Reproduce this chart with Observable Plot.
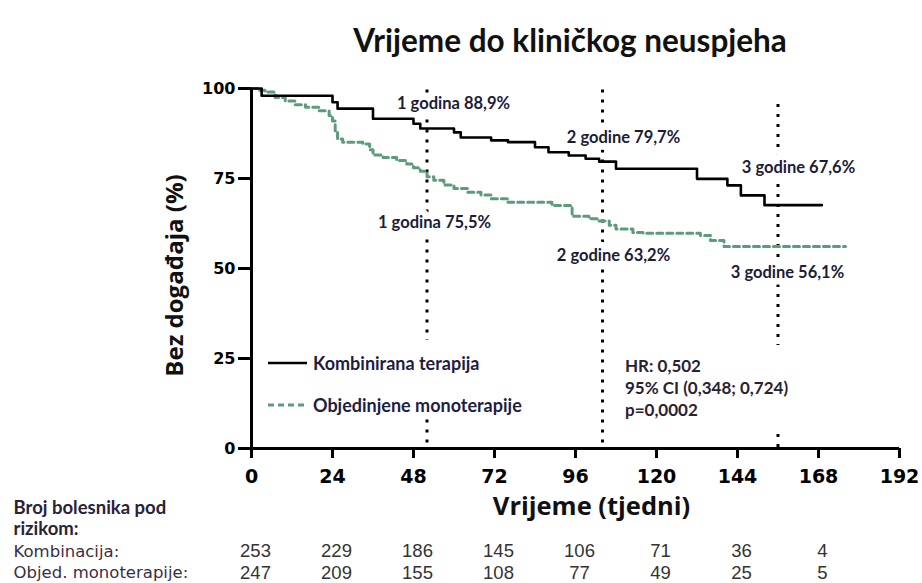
<!DOCTYPE html>
<html>
<head>
<meta charset="utf-8">
<script src="https://cdn.jsdelivr.net/npm/d3@7"></script>
<script src="https://cdn.jsdelivr.net/npm/@observablehq/plot@0.6"></script>
<style>
  body { margin: 0; background: #fff; }
  #wrap { position: relative; width: 922px; height: 583px; overflow: hidden; background: #fff; }
  #title { position: absolute; left: 0; top: 20px; width: 922px; box-sizing: border-box; padding-left: 218px;
           text-align: center; font: bold 31.5px Lato, sans-serif; line-height: 40px; color: #111; }
  #chart { position: absolute; left: 0; top: 70px; }
  #legend { position: absolute; left: 262px; top: 340px; width: 280px; height: 78px; background: #fff;
            font: bold 18px Lato, sans-serif; color: #1e1e42; }
  .lrow { position: absolute; left: 6px; height: 24px; display: flex; align-items: center; }
  .lrow svg { margin-right: 6px; }
  #hr { position: absolute; left: 620px; top: 345px; width: 180px; height: 88px; background: #fff;
        box-sizing: border-box; padding: 10px 0 0 5px; font: bold 17px Lato, sans-serif; line-height: 22px; color: #2a2230; }
</style>
</head>
<body>
<div id="wrap">
  <div id="title"></div>
  <div id="chart"></div>
  <div id="legend"></div>
  <div id="hr"></div>
</div>
<script>
// ---------- data ----------
const titleText = "Vrijeme do kliničkog neuspjeha";
const xTicks = [0, 24, 48, 72, 96, 120, 144, 168, 192];
const yTicks = [0, 25, 50, 75, 100];

// Kombinirana terapija (KM steps: week, survival %)
const comboWeeks = [0, 3, 24, 25.5, 36, 48, 50, 60, 62, 71, 76, 84, 88, 94, 99, 103, 108, 132, 141, 145, 152, 169];
const comboSurv  = [100, 98, 96.2, 94.4, 91.6, 90.2, 88.9, 87.8, 86.4, 85.6, 85.1, 83.7, 82.3, 81.4, 80.5, 79.7, 77.7, 74.9, 73.1, 70.3, 67.6, 67.6];

// Objedinjene monoterapije
const monoWeeks = [0, 2, 4, 7, 10, 13, 16, 20, 23, 24, 24.8, 25.5, 27, 33, 35, 36, 39, 43, 46, 48, 50, 52, 54, 57, 60, 64, 68, 71, 76, 89, 95, 100, 103, 106, 108, 113, 116, 133, 136, 140, 176];
const monoSurv  = [100, 99.5, 99, 97.5, 96.5, 95.5, 94.8, 93.8, 92.5, 91, 88, 86, 85.1, 84.6, 83, 81.5, 80.8, 80, 79, 78, 77, 75.5, 74.5, 73.2, 72.2, 71.2, 70.4, 69.4, 68.4, 67.5, 64.5, 63.8, 63.2, 62, 61, 60, 59.8, 59.2, 57.8, 56.1, 56.1];

// yearly landmarks
const landmarkWeeks = [52, 104, 156];
const landmarkTop = [100.8, 100.6, 96.1];
const landmarkBottom = [1.5, 1.5, 0.3];
const comboYearText = ["1 godina 88,9%", "2 godine 79,7%", "3 godine 67,6%"];
const comboYearValue = [88.9, 79.7, 67.6];
const monoYearText = ["1 godina 75,5%", "2 godine 63,2%", "3 godine 56,1%"];
const monoYearValue = [75.5, 63.2, 56.1];

// number at risk
const riskWeeks = [0, 24, 48, 72, 96, 120, 144, 168];
const riskCombo = [253, 229, 186, 145, 106, 71, 36, 4];
const riskMono  = [247, 209, 155, 108, 77, 49, 25, 5];

const seriesNames = ["Kombinirana terapija", "Objedinjene monoterapije"];
const hrLines = ["HR: 0,502", "95% CI (0,348; 0,724)", "p=0,0002"];
const riskTitle = "Broj bolesnika pod\nrizikom:";
const riskRowNames = ["Kombinacija:", "Objed. monoterapije:"];
const xLabel = "Vrijeme (tjedni)";
const yLabel = "Bez događaja (%)";

// ---------- styles ----------
const GREEN = "#5c9c7c";
const LABEL_INK = "#1c1c36";

// ---------- build tables ----------
const combo = comboWeeks.map((w, i) => ({week: w, surv: comboSurv[i]}));
const mono = monoWeeks.map((w, i) => ({week: w, surv: monoSurv[i]}));
const guides = landmarkWeeks.map((w, i) => ({week: w, top: landmarkTop[i], bottom: landmarkBottom[i]}));
const risk = riskWeeks.map((w, i) => ({week: w, combo: riskCombo[i], mono: riskMono[i]}));

// label offsets (layout only)
const comboOffsets = [[26.5, -25], [21, -24], [20.5, -37.6]];
const monoOffsets = [[7.5, 46], [11, 34.5], [9.5, 26]];

const labelMarks = [];
landmarkWeeks.forEach((w, i) => {
  labelMarks.push(Plot.text([{week: w, v: comboYearValue[i], t: comboYearText[i]}], {
    x: "week", y: "v", text: "t", dx: comboOffsets[i][0], dy: comboOffsets[i][1],
    fontFamily: "Lato", fontWeight: "bold", fontSize: 16.5, fill: LABEL_INK,
    stroke: "white", strokeWidth: 13, strokeLinejoin: "round", paintOrder: "stroke"
  }));
  labelMarks.push(Plot.text([{week: w, v: monoYearValue[i], t: monoYearText[i]}], {
    x: "week", y: "v", text: "t", dx: monoOffsets[i][0], dy: monoOffsets[i][1],
    fontFamily: "Lato", fontWeight: "bold", fontSize: 16.5, fill: LABEL_INK,
    stroke: "white", strokeWidth: 13, strokeLinejoin: "round", paintOrder: "stroke"
  }));
});

const chart = Plot.plot({
  width: 922,
  height: 513,
  marginLeft: 251,
  marginRight: 23,
  marginTop: 18,
  marginBottom: 135,
  style: {background: "transparent", color: "black", fontFamily: "DejaVu Sans", overflow: "visible"},
  x: {domain: [0, 192]},
  y: {domain: [0, 100]},
  marks: [
    Plot.ruleX(guides, {x: "week", y1: "bottom", y2: "top", stroke: "black", strokeWidth: 3, strokeDasharray: "3 7"}),
    ...labelMarks,
    Plot.line(mono, {x: "week", y: "surv", curve: "step-after", stroke: GREEN, strokeWidth: 3, strokeDasharray: "6 4"}),
    Plot.line(combo, {x: "week", y: "surv", curve: "step-after", stroke: "black", strokeWidth: 2.6}),
    Plot.ruleY([0], {strokeWidth: 3}),
    Plot.ruleX([0], {strokeWidth: 3}),
    Plot.axisY(yTicks, {tickSize: 13, tickPadding: 3, fontSize: 16, fontWeight: "bold", fontFamily: "DejaVu Sans", strokeWidth: 3, label: null}),
    Plot.axisX(xTicks, {tickSize: 10, tickPadding: 10.5, fontSize: 19, fontWeight: "bold", fontFamily: "DejaVu Sans", strokeWidth: 3, label: null}),
    Plot.text([xLabel], {frameAnchor: "bottom", lineAnchor: "middle", textAnchor: "middle", dx: 16, dy: 58, fontSize: 25.5, fontWeight: "bold", fontFamily: "Open Sans", fill: "#111"}),
    Plot.text([yLabel], {frameAnchor: "left", lineAnchor: "middle", textAnchor: "middle", rotate: -90, dx: -76, dy: 7, fontSize: 24, fontWeight: "bold", fontFamily: "Open Sans", fill: "#111"}),
    Plot.text([riskTitle], {frameAnchor: "bottom-left", lineAnchor: "middle", dx: -238, dy: 69.5, textAnchor: "start", fontSize: 18.5, lineHeight: 1.14, fontWeight: "bold", fontFamily: "Lato", fill: "#2a2238"}),
    Plot.text([riskRowNames[0]], {frameAnchor: "bottom-left", lineAnchor: "middle", dx: -238, dy: 103, textAnchor: "start", fontSize: 16.5, fontFamily: "DejaVu Sans", fill: "#3a2f3f"}),
    Plot.text([riskRowNames[1]], {frameAnchor: "bottom-left", lineAnchor: "middle", dx: -238, dy: 124.5, textAnchor: "start", fontSize: 16.5, fontFamily: "DejaVu Sans", fill: "#3a2f3f"}),
    Plot.text(risk, {x: "week", text: "combo", frameAnchor: "bottom", lineAnchor: "middle", dy: 103, dx: 4, fontSize: 18.5, fontFamily: "Liberation Sans", fill: "#333"}),
    Plot.text(risk, {x: "week", text: "mono", frameAnchor: "bottom", lineAnchor: "middle", dy: 124.5, dx: 4, fontSize: 18.5, fontFamily: "Liberation Sans", fill: "#333"})
  ]
});
document.getElementById("chart").appendChild(chart);
document.getElementById("title").textContent = titleText;

// legend (HTML overlay, like the original text box)
const legend = d3.select("#legend");
const legendStyles = [{stroke: "black", dash: null, w: 2.6}, {stroke: GREEN, dash: "6 4", w: 3}];
seriesNames.forEach((name, i) => {
  const row = legend.append("div").attr("class", "lrow").style("top", (i === 0 ? 11 : 53) + "px");
  const s = row.append("svg").attr("width", 39).attr("height", 10);
  s.append("line").attr("x1", 0).attr("x2", 39).attr("y1", 5).attr("y2", 5)
    .attr("stroke", legendStyles[i].stroke).attr("stroke-width", legendStyles[i].w)
    .attr("stroke-dasharray", legendStyles[i].dash);
  row.append("span").text(name);
});

// HR annotation box
const hr = d3.select("#hr");
hrLines.forEach(t => hr.append("div").text(t));
</script>
</body>
</html>
